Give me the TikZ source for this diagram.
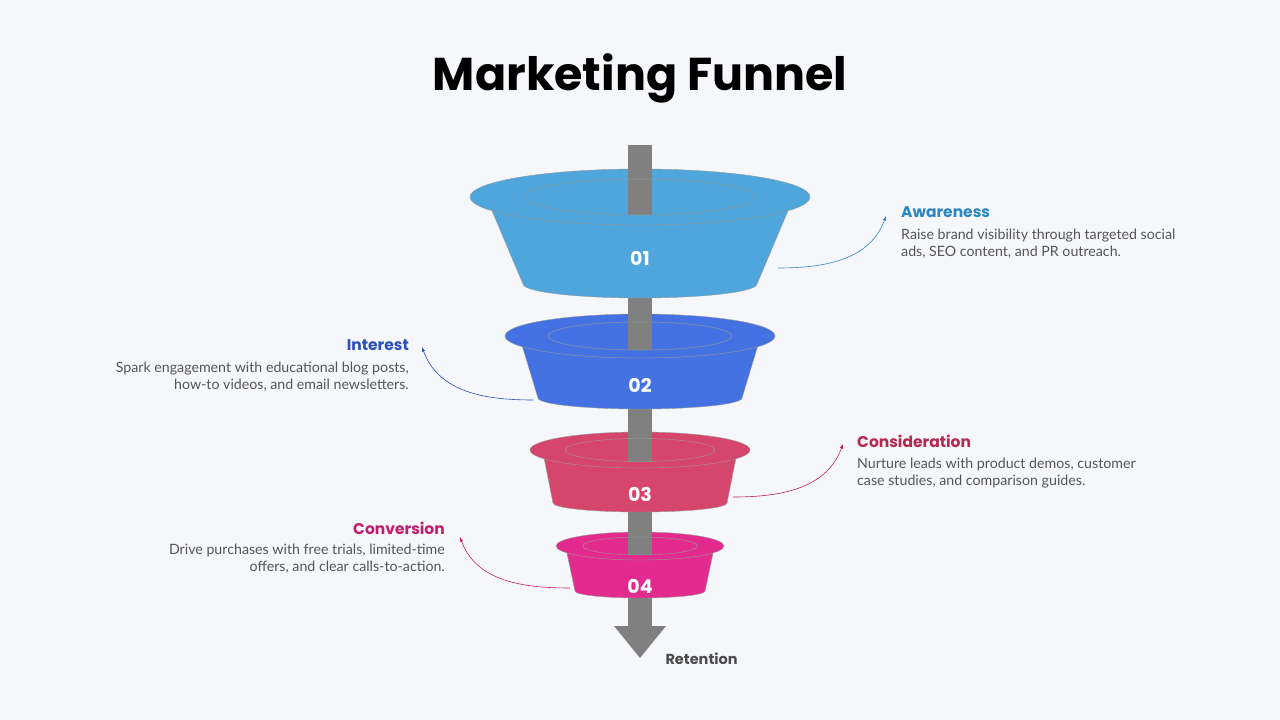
\documentclass[tikz,border=0pt]{standalone}
\usepackage{fontspec}
\setmainfont{Lato}
\newfontfamily\titlefont{Poppins}
\usepackage[]{xcolor}
\definecolor{bgc}{HTML}{F5F7FB}
\definecolor{poleg}{HTML}{808080}
\definecolor{aw}{HTML}{4FA6DD}
\definecolor{in}{HTML}{4572E2}
\definecolor{co}{HTML}{D6456C}
\definecolor{cv}{HTML}{E22A8F}
\definecolor{awt}{HTML}{2E86C1}
\definecolor{intt}{HTML}{2A4FB8}
\definecolor{cot}{HTML}{B5284F}
\definecolor{cvt}{HTML}{C21E6E}
\definecolor{txt}{HTML}{555555}
\begin{document}
\begin{tikzpicture}[
            x=1pt, y=-1pt,
            head/.style={font=\titlefont\bfseries\fontsize{15.5}{18}\selectfont, inner sep=0pt},
            desc/.style={font=\fontsize{14.2}{17}\selectfont, text=txt, inner sep=0pt},
            num/.style={font=\titlefont\bfseries\fontsize{19}{22}\selectfont, text=white},
            link/.style={-latex, semithick}
        ]
            \fill[bgc] (0,0) rectangle (1280,720);
            \node[font=\titlefont\bfseries\fontsize{46}{52}\selectfont] (title) at (640,78) {Marketing Funnel};

            % pole
            \fill[poleg] (628,145) rectangle (652,627);
            \fill[poleg] (614,626) -- (666,626) -- (640,658) -- cycle;
            \node[font=\titlefont\bfseries\fontsize{14.5}{16}\selectfont, text=black!70, anchor=west] (ret) at (662,659) {Retention};

            % pieces: y rim, rx, ry, bottom y, bottom half width, colour
            \foreach \yc/\rx/\ry/\yb/\bx/\col/\lab in {197/170/28/284/117/aw/01, 336/135/22/398/102/in/02, 450/110/18/503/87/co/03, 546/84/14/591/65/cv/04}{
                \filldraw[fill=\col, draw=black!40, thin]
                    (640-0.87*\rx,\yc+0.5*\ry) -- (640-\bx,\yb) arc[start angle=180, end angle=0, x radius=\bx, y radius=0.5*\ry]
                    -- (640+0.87*\rx,\yc+0.5*\ry) -- cycle;
                \filldraw[fill=\col, draw=black!40, thin] (640,\yc) ellipse ({\rx} and {\ry});
                \fill[poleg] (628,\yc-\ry-1) rectangle (652,\yc+0.64*\ry);
                \draw[black!40, thin] (640,\yc) ellipse ({0.68*\rx} and {0.64*\ry});
                \node[num] (n\lab) at (640,{(\yc+\yb)/2+18}) {\lab};
            }

            % texts
            \node[head, text=awt, anchor=west] (aw) at (901,212) {Awareness};
            \node[desc, anchor=north west, align=left] (awd) at (901,229) {Raise brand visibility through targeted social\\ads, SEO content, and PR outreach.};
            \node[head, text=intt, anchor=east] (int) at (409,345) {Interest};
            \node[desc, anchor=north east, align=right] (intd) at (409,362) {Spark engagement with educational blog posts,\\how-to videos, and email newsletters.};
            \node[head, text=cot, anchor=west] (cons) at (857,441) {Consideration};
            \node[desc, anchor=north west, align=left] (consd) at (857,458) {Nurture leads with product demos, customer\\case studies, and comparison guides.};
            \node[head, text=cvt, anchor=east] (conv) at (445,528) {Conversion};
            \node[desc, anchor=north east, align=right] (convd) at (445,544) {Drive purchases with free trials, limited-time\\offers, and clear calls-to-action.};

            % connectors
            \coordinate (a1) at (778,268); \coordinate (a2) at (886,216);
            \coordinate (b1) at (533,400); \coordinate (b2) at (422,347);
            \coordinate (c1) at (733,497); \coordinate (c2) at (843,444);
            \coordinate (d1) at (570,588); \coordinate (d2) at (460,537);
            \draw[link, awt] (a1) to[out=0, in=-110] (a2);
            \draw[link, intt] (b1) to[out=180, in=-70] (b2);
            \draw[link, cot] (c1) to[out=0, in=-110] (c2);
            \draw[link, cvt] (d1) to[out=180, in=-70] (d2);
        \end{tikzpicture}
\end{document}
